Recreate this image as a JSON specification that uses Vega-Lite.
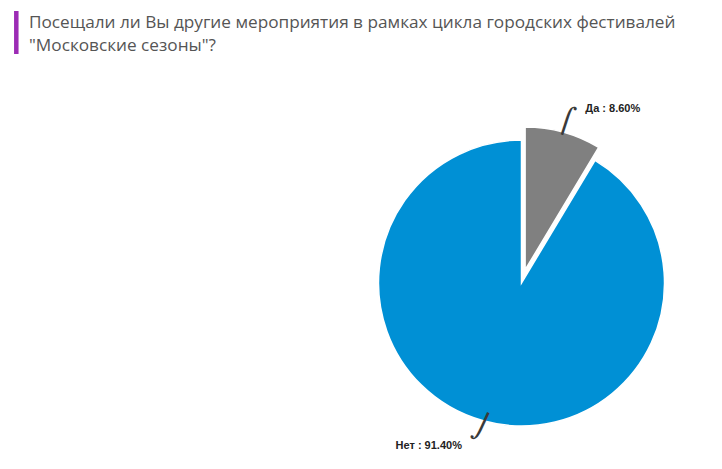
{
  "$schema": "https://vega.github.io/schema/vega-lite/v6.json",
  "description": "Pie chart: visited other Moscow Seasons events",
  "autosize": "none",
  "width": 301,
  "height": 300,
  "padding": {"left": 371, "top": 133, "right": 50, "bottom": 36},
  "background": "white",
  "title": {
    "text": ["Посещали ли Вы другие мероприятия в рамках цикла городских фестивалей", "\"Московские сезоны\"?"],
    "font": "Open Sans",
    "fontSize": 17.2,
    "fontWeight": "normal",
    "color": "#555555",
    "anchor": "start",
    "frame": "group",
    "baseline": "top",
    "lineHeight": 22.5,
    "offset": 0,
    "dx": -342,
    "dy": 45
  },
  "data": {
    "values": [
      {"label": "Да", "pct": 8.6},
      {"label": "Нет", "pct": 91.4}
    ]
  },
  "transform": [
    {"calculate": "datum.label + ' : ' + format(datum.pct, '.2f') + '%'", "as": "caption"},
    {"calculate": "datum.label === 'Да' ? '⌠' : '⌡'", "as": "leader"}
  ],
  "encoding": {
    "theta": {"field": "pct", "type": "quantitative", "stack": true},
    "order": {"field": "label", "type": "nominal"}
  },
  "layer": [
    {
      "mark": {
        "type": "arc",
        "outerRadius": 143,
        "stroke": "white",
        "strokeWidth": 1.5,
        "xOffset": {"expr": "datum.label === 'Да' ? 3.6 : 0"},
        "yOffset": {"expr": "datum.label === 'Да' ? -13 : 0"}
      },
      "encoding": {
        "color": {
          "field": "label",
          "type": "nominal",
          "scale": {"domain": ["Да", "Нет"], "range": ["#808080", "#0090d5"]},
          "legend": null
        }
      }
    },
    {
      "mark": {
        "type": "text",
        "font": "DejaVu Sans",
        "fontSize": 26,
        "color": "#3a3a3a",
        "baseline": "middle",
        "align": "center",
        "angle": {"expr": "datum.label === 'Да' ? 18 : 25"},
        "radius": {"expr": "datum.label === 'Да' ? 168 : 150"}
      },
      "encoding": {
        "detail": {"field": "label", "type": "nominal"},
        "text": {"field": "leader"}
      }
    },
    {
      "mark": {
        "type": "text",
        "font": "Liberation Sans",
        "fontSize": 11,
        "fontWeight": "bold",
        "color": "#222222",
        "baseline": "middle",
        "align": {"expr": "datum.label === 'Да' ? 'left' : 'right'"},
        "dx": {"expr": "datum.label === 'Да' ? 15 : -15"},
        "dy": 2,
        "radius": {"expr": "datum.label === 'Да' ? 183 : 167"}
      },
      "encoding": {
        "detail": {"field": "label", "type": "nominal"},
        "text": {"field": "caption"}
      }
    },
    {
      "data": {"values": [{}]},
      "mark": {"type": "rule", "color": "#9c2bb5", "strokeWidth": 4.5},
      "encoding": {
        "x": {"value": -354.7},
        "y": {"value": -122},
        "y2": {"value": -79}
      }
    }
  ],
  "config": {"view": {"stroke": null}}
}
